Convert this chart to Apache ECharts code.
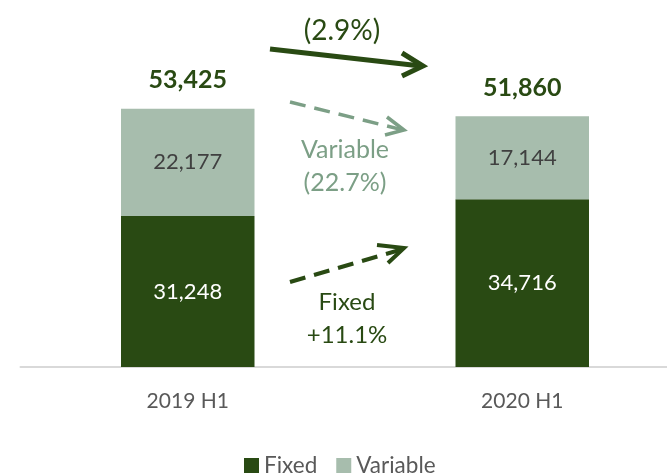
<!DOCTYPE html>
<html>
<head>
<meta charset="utf-8">
<script src="https://cdn.jsdelivr.net/npm/echarts@6/dist/echarts.min.js"></script>
<style>
  html, body { margin: 0; padding: 0; background: #fff; }
  #chart { width: 667px; height: 473px; }
</style>
</head>
<body>
<div id="chart"></div>
<script>
// data
var categories = ['2019 H1', '2020 H1'];
var fixedValues = [31248, 34716];
var variableValues = [22177, 17144];
var totals = [53425, 51860];

var darkGreen = '#294A13';
var lightGreen = '#A7BDAD';
var sage = '#7C9F86';
var font = 'Lato, "Open Sans", sans-serif';

function fmt(v) {
    return v.toLocaleString('en-US');
}

var chart = echarts.init(document.getElementById('chart'));

var option = {
    animation: false,
    textStyle: { fontFamily: font },
    grid: { left: 20.5, top: 77, width: 669, height: 290, outerBoundsMode: 'none', containLabel: false },
    legend: {
        data: ['Fixed', 'Variable'],
        left: 239,
        top: 449,
        itemWidth: 15,
        itemHeight: 15,
        itemGap: 19,
        icon: 'rect',
        textStyle: { fontSize: 22.5, color: '#595959', fontFamily: font }
    },
    xAxis: {
        type: 'category',
        data: categories,
        axisLine: { lineStyle: { color: '#D9D9D9', width: 2 } },
        axisTick: { show: false },
        axisLabel: { fontSize: 21, color: '#595959', margin: 24 }
    },
    yAxis: {
        type: 'value',
        min: 0,
        max: 60000,
        show: false,
        splitLine: { show: false }
    },
    series: [
        {
            name: 'Fixed',
            type: 'bar',
            stack: 'cost',
            barWidth: 133.5,
            data: fixedValues,
            itemStyle: { color: darkGreen },
            label: {
                show: true,
                position: 'inside',
                color: '#FFFFFF',
                fontSize: 22,
                formatter: function (p) { return fmt(p.value); }
            }
        },
        {
            name: 'Variable',
            type: 'bar',
            stack: 'cost',
            barWidth: 133.5,
            data: variableValues,
            itemStyle: { color: lightGreen },
            label: {
                show: true,
                position: 'inside',
                color: '#404040',
                fontSize: 22,
                formatter: function (p) { return fmt(p.value); }
            }
        },
        {
            name: 'Total',
            type: 'bar',
            stack: 'cost',
            barWidth: 133.5,
            data: [0, 0],
            itemStyle: { color: 'transparent' },
            label: {
                show: true,
                position: 'top',
                distance: 16,
                color: darkGreen,
                fontSize: 25,
                fontWeight: 'bold',
                formatter: function (p) { return fmt(totals[p.dataIndex]); }
            }
        }
    ],
    graphic: [
        // total change
        { type: 'text', x: 342, y: 31, style: { text: '(2.9%)', fill: darkGreen, font: '28px ' + font, textAlign: 'center', textVerticalAlign: 'middle' } },
        { type: 'line', shape: { x1: 270, y1: 49, x2: 421, y2: 66 }, style: { stroke: darkGreen, lineWidth: 5 } },
        { type: 'polyline', shape: { points: [[402, 53], [423, 66], [402, 76]] }, style: { stroke: darkGreen, lineWidth: 5, fill: null } },
        // variable change
        { type: 'line', shape: { x1: 290, y1: 102, x2: 403, y2: 130 }, style: { stroke: sage, lineWidth: 3.5, lineDash: [16, 9] } },
        { type: 'polyline', shape: { points: [[387, 117], [404, 130], [385, 135]] }, style: { stroke: sage, lineWidth: 3.5, fill: null } },
        { type: 'text', x: 345, y: 150, style: { text: 'Variable', fill: sage, font: '25px ' + font, textAlign: 'center', textVerticalAlign: 'middle' } },
        { type: 'text', x: 345, y: 183, style: { text: '(22.7%)', fill: sage, font: '25px ' + font, textAlign: 'center', textVerticalAlign: 'middle' } },
        // fixed change
        { type: 'line', shape: { x1: 290, y1: 282, x2: 403, y2: 249 }, style: { stroke: darkGreen, lineWidth: 4, lineDash: [16, 9] } },
        { type: 'polyline', shape: { points: [[377, 245], [404, 248], [388, 263]] }, style: { stroke: darkGreen, lineWidth: 4, fill: null } },
        { type: 'text', x: 347, y: 302, style: { text: 'Fixed', fill: darkGreen, font: '24px ' + font, textAlign: 'center', textVerticalAlign: 'middle' } },
        { type: 'text', x: 347, y: 335, style: { text: '+11.1%', fill: darkGreen, font: '24px ' + font, textAlign: 'center', textVerticalAlign: 'middle' } }
    ]
};

chart.setOption(option);
</script>
</body>
</html>
